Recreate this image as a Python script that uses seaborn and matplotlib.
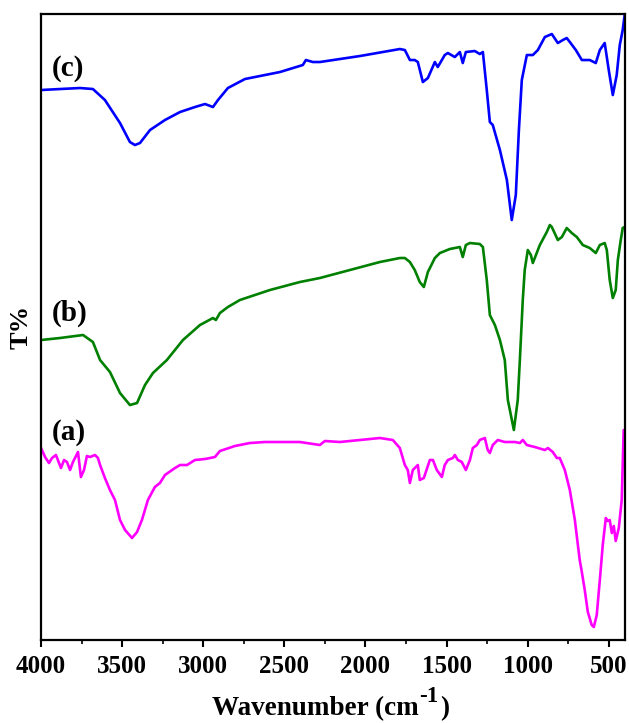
import numpy as np
import pandas as pd
import seaborn as sns
import matplotlib
matplotlib.use("Agg")
import matplotlib.pyplot as plt

# FTIR spectra (wavenumber in cm^-1, transmittance in arbitrary offset units)
wn_c = [4000, 3883, 3760, 3680, 3606, 3513, 3452, 3421, 3390, 3328, 3236, 3143, 3051, 2989, 2940,
        2909, 2848, 2743, 2527, 2386, 2367, 2324, 2281, 2034, 1788, 1757, 1726, 1696, 1677, 1646,
        1615, 1572, 1554, 1511, 1492, 1449, 1418, 1400, 1381, 1326, 1295, 1276, 1252, 1233, 1215,
        1171, 1128, 1098, 1073, 1054, 1036, 1005, 968, 937, 894, 851, 814, 783, 759, 740, 703,
        666, 617, 580, 555, 525, 500, 475, 451, 432, 414, 402]
t_c = [550, 551, 552, 551, 540, 517, 498, 495, 497, 510, 520, 528, 533, 536, 533,
       540, 552, 561, 568, 575, 580, 578, 578, 584, 591, 590, 580, 580, 578, 558,
       562, 578, 573, 585, 587, 583, 588, 577, 588, 589, 586, 588, 550, 518, 515,
       490, 460, 420, 445, 510, 560, 585, 585, 590, 603, 606, 597, 600, 602, 598, 590,
       580, 580, 577, 590, 597, 570, 545, 565, 595, 610, 625]

wn_b = [4000, 3883, 3741, 3680, 3636, 3575, 3513, 3452, 3408, 3359, 3310, 3224, 3125, 3020, 2940,
        2922, 2897, 2848, 2774, 2589, 2404, 2281, 2096, 1911, 1788, 1757, 1726, 1696, 1665, 1640,
        1615, 1572, 1541, 1480, 1418, 1400, 1381, 1356, 1295, 1276, 1252, 1233, 1202, 1171, 1141,
        1122, 1085, 1061, 1048, 1030, 1018, 999, 980, 968, 925, 882, 863, 851, 814, 789, 759,
        728, 697, 660, 617, 580, 555, 525, 512, 494, 475, 457, 444, 426, 414, 402]
t_b = [300, 302, 305, 298, 280, 268, 247, 235, 237, 255, 267, 280, 300, 315, 322,
       320, 327, 333, 340, 350, 358, 362, 370, 378, 382, 382, 378, 370, 358, 353,
       368, 382, 387, 391, 393, 383, 395, 397, 396, 393, 360, 325, 315, 300, 280,
       240, 210, 240, 280, 340, 370, 390, 385, 377, 395, 408, 415, 413, 400, 403, 412,
       407, 403, 395, 392, 387, 395, 397, 390, 360, 342, 350, 380, 400, 412, 413]

wn_a = [4000, 3975, 3951, 3932, 3908, 3877, 3858, 3840, 3821, 3803, 3772, 3754, 3735, 3717, 3698,
        3667, 3649, 3636, 3606, 3575, 3544, 3513, 3482, 3439, 3408, 3378, 3341, 3298, 3267, 3236,
        3174, 3143, 3100, 3051, 2989, 2928, 2897, 2805, 2712, 2620, 2527, 2404, 2281, 2250, 2158,
        2034, 1911, 1831, 1788, 1757, 1739, 1726, 1708, 1677, 1665, 1640, 1603, 1584, 1560, 1529,
        1511, 1492, 1461, 1449, 1430, 1406, 1381, 1356, 1338, 1313, 1295, 1264, 1246, 1233, 1215,
        1184, 1141, 1079, 1048, 1030, 1005, 956, 894, 875, 845, 820, 802, 771, 740, 709,
        679, 666, 648, 629, 605, 592, 574, 555, 537, 518, 506, 494, 481, 469, 457,
        438, 420, 408]
t_a = [192, 183, 177, 182, 185, 172, 180, 178, 170, 178, 188, 163, 170, 184, 183,
       185, 182, 175, 162, 150, 140, 120, 110, 102, 108, 120, 140, 153, 157, 165,
       172, 175, 175, 180, 181, 183, 189, 194, 197, 198, 198, 198, 195, 199, 198,
       200, 202, 200, 192, 175, 170, 157, 170, 175, 160, 162, 180, 180, 170, 163,
       175, 180, 182, 185, 180, 178, 170, 180, 192, 195, 200, 202, 190, 187, 195,
       200, 198, 198, 197, 200, 195, 193, 190, 192, 188, 182, 182, 170, 150, 120,
       80, 68, 50, 28, 15, 13, 25, 60, 95, 122, 119, 120, 107, 114, 99,
       112, 140, 210]

series_labels = ["(a)", "(b)", "(c)"]
series_colors = ["#FF00FF", "#008000", "#0000FF"]
xticks = [4000, 3500, 3000, 2500, 2000, 1500, 1000, 500]

sns.set_style("ticks")
plt.rcParams["font.family"] = ["Liberation Serif", "DejaVu Serif"]
plt.rcParams["font.weight"] = "bold"
plt.rcParams["text.color"] = "black"
plt.rcParams["axes.labelcolor"] = "black"
plt.rcParams["xtick.color"] = "black"

df = pd.concat([
    pd.DataFrame({"wavenumber": wn_a, "T": t_a, "sample": "(a)"}),
    pd.DataFrame({"wavenumber": wn_b, "T": t_b, "sample": "(b)"}),
    pd.DataFrame({"wavenumber": wn_c, "T": t_c, "sample": "(c)"}),
])

fig = plt.figure(figsize=(6.29, 7.23), dpi=100)
ax = fig.add_axes([0.0652, 0.1148, 0.9284, 0.8658])

sns.lineplot(data=df, x="wavenumber", y="T", hue="sample", hue_order=series_labels,
             palette=series_colors, sort=False, estimator=None, linewidth=1.9,
             legend=False, ax=ax)

ax.set_xlim(4000, 400)
ax.set_ylim(0, 626)
ax.set_xticks(xticks)
ax.set_xticks([3750, 3250, 2750, 2250, 1750, 1250, 750], minor=True)
ax.set_yticks([])
ax.tick_params(axis="x", which="major", direction="out", length=5, width=1.5,
               labelsize=18, pad=6, colors="black")
ax.tick_params(axis="x", which="minor", direction="out", length=3, width=1.2, colors="black")
for lbl in ax.get_xticklabels():
    lbl.set_fontweight("bold")
for s in ax.spines.values():
    s.set_linewidth(1.6)
    s.set_color("black")

# x-axis title built from pieces so the superscript stays large
ax.set_xlabel("")
xl_main = fig.text(212 / 629, 8 / 723, "Wavenumber (cm", fontsize=19.5,
                   fontweight="bold", ha="left", va="baseline", color="black")
xl_sup = ax.annotate("-1", xy=(1, 0), xycoords=xl_main, xytext=(0.5, 10),
                     textcoords="offset points", fontsize=16.5, fontweight="bold",
                     ha="left", va="bottom", color="black", annotation_clip=False)
ax.annotate(")", xy=(1, 0), xycoords=(xl_sup, xl_main), xytext=(1, 0),
            textcoords="offset points", fontsize=19.5, fontweight="bold",
            ha="left", va="bottom", color="black", annotation_clip=False)

ax.set_ylabel("T%", fontsize=19, fontweight="bold", labelpad=6, color="black")

# sample tags
tag_kw = dict(fontsize=21, fontweight="bold", ha="left", va="center", color="black")
ax.text(3935, 572, "(c)", **tag_kw)
ax.text(3935, 327, "(b)", **tag_kw)
ax.text(3935, 208, "(a)", **tag_kw)

fig.savefig("out.png", dpi=100)
